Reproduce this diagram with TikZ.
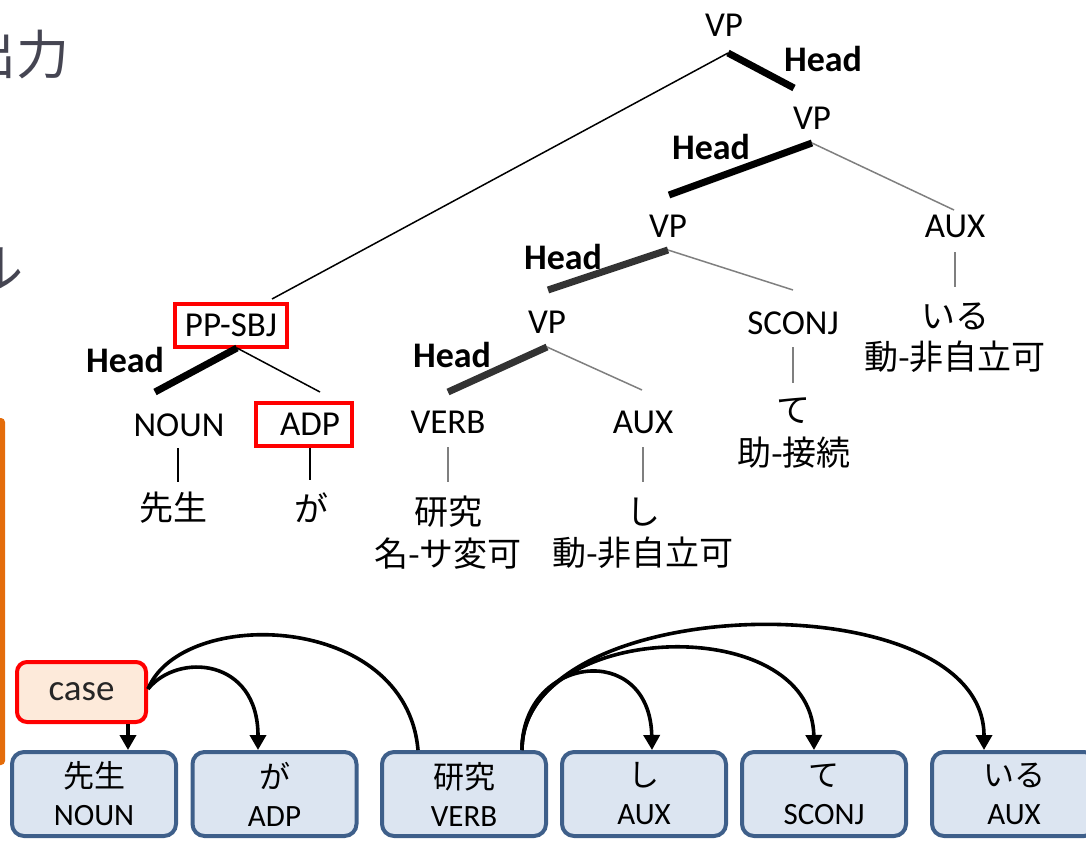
\documentclass[tikz,border=0pt]{standalone}
\usepackage{fontspec}
\setmainfont{Carlito}
\newfontfamily\jp{Noto Sans CJK JP}
\usetikzlibrary{arrows.meta,calc}

\definecolor{boxblue}{HTML}{3E5F8A}
\definecolor{boxfill}{HTML}{DCE5F1}
\definecolor{casefill}{HTML}{FDEADA}
\definecolor{barorange}{HTML}{E46C0A}
\definecolor{headgray}{HTML}{333333}
\definecolor{thingray}{HTML}{7F7F7F}
\definecolor{titlegray}{HTML}{454552}

\tikzset{
  lbl/.style={font=\fontsize{17.5}{20}\selectfont, inner sep=0pt},
  jlbl/.style={font=\jp\fontsize{17}{20}\selectfont, inner sep=0pt},
  headlbl/.style={font=\bfseries\fontsize{18}{20}\selectfont, inner sep=0pt},
  redbox/.style={draw=red, line width=2pt, minimum height=21.5pt, inner sep=0pt},
  headline/.style={line width=3.5pt},
  blackline/.style={line width=0.75pt, draw=black},
  greyline/.style={line width=0.75pt, draw=thingray},
  word/.style={draw=boxblue, fill=boxfill, line width=2pt, rounded corners=6pt,
    minimum width=82pt, minimum height=42pt, align=center, inner sep=0pt,
    font=\fontsize{15.5}{19}\selectfont},
  arc/.style={line width=1.8pt},
  dep/.style={line width=1.8pt, -{Triangle[length=7.5pt,width=8pt]}},
  title/.style={font=\jp\fontsize{26.5}{30}\selectfont, text=titlegray, inner sep=0pt},
}

\begin{document}
\begin{tikzpicture}[x=0.5pt,y=-0.5pt]
\useasboundingbox (0,0) rectangle (1086,840);
\clip (0,0) rectangle (1086,840);

% side bar and cut-off headings
\fill[barorange, rounded corners=2pt] (-6,418) rectangle (5,765);
\node[title] (ttl1) at (17,55) {出力};
\node[title] (ttl2) at (-3,268) {ル};

% ---------- constituency tree ----------
\node[lbl] (vpA) at (724,25) {VP};
\node[headlbl] (hA) at (823,59) {Head};
\node[lbl] (vpB) at (812,118) {VP};
\node[headlbl] (hB) at (711,147) {Head};
\node[lbl] (auxR) at (955,226) {AUX};
\node[jlbl] (iru) at (955,316) {いる};
\node[jlbl] (iruP) at (955,357) {動-非自立可};
\node[lbl] (vpC) at (668,226) {VP};
\node[headlbl] (hC) at (563,257) {Head};
\node[lbl] (sconj) at (793,323) {SCONJ};
\node[jlbl] (te) at (793,411) {て};
\node[jlbl] (teP) at (794,453) {助-接続};
\node[lbl] (vpD) at (547,322) {VP};
\node[headlbl] (hD) at (452,355) {Head};
\node[lbl] (verb) at (448,422) {VERB};
\node[jlbl] (ken) at (448,512) {研究};
\node[jlbl] (kenP) at (448,554) {名-サ変可};
\node[lbl] (auxM) at (643,422) {AUX};
\node[jlbl] (shi) at (643,512) {し};
\node[jlbl] (shiP) at (643,553) {動-非自立可};
\node[lbl, redbox, minimum width=56pt] (pp) at (231,325.5) {PP-SBJ};
\node[headlbl] (hE) at (125,360) {Head};
\node[lbl] (noun) at (179,425) {NOUN};
\node[jlbl] (sen) at (173,508) {先生};
\node[lbl, redbox, minimum width=48pt] (adp) at (304,424.5) {\hspace{6pt}ADP};
\node[jlbl] (ga) at (311,508) {が};

% branch points and branch ends
\coordinate (bA) at (728,53);
\coordinate (bB) at (812,143);
\coordinate (bC) at (668,250);
\coordinate (bD) at (547,347);
\coordinate (bE) at (237,348);
\coordinate (eA1) at (794,88);
\coordinate (eA2) at (272,299);
\coordinate (eB1) at (669,195);
\coordinate (eB2) at (954,210);
\coordinate (eC1) at (548,290);
\coordinate (eC2) at (793,290);
\coordinate (eD1) at (448,392);
\coordinate (eD2) at (642,390);
\coordinate (eE1) at (155,392);
\coordinate (eE2) at (320,392);

\draw[headline, black] (bA) -- (eA1);
\draw[blackline] (bA) -- (eA2);
\draw[headline, black] (bB) -- (eB1);
\draw[greyline] (bB) -- (eB2);
\draw[headline, headgray] (bC) -- (eC1);
\draw[greyline] (bC) -- (eC2);
\draw[headline, headgray] (bD) -- (eD1);
\draw[greyline] (bD) -- (eD2);
\draw[headline, black] (bE) -- (eE1);
\draw[blackline] (bE) -- (eE2);

% pre-terminal to word links
\draw[greyline] ($(auxR)+(0,26)$) -- ($(iru)+(0,-29)$);
\draw[greyline] ($(sconj)+(0,24)$) -- ($(te)+(0,-28)$);
\draw[greyline] ($(verb)+(0,25)$) -- ($(ken)+(0,-30)$);
\draw[greyline] ($(auxM)+(0,25)$) -- ($(shi)+(0,-30)$);
\draw[line width=0.75pt] ($(noun)+(-1,23)$) -- ($(sen)+(5,-26)$);
\draw[line width=0.75pt] ($(adp)+(6,23)$) -- ($(ga)+(-1,-28)$);

% ---------- dependency view ----------
\node[word] (b1) at (94,794) {{\jp 先生}\\NOUN};
\node[word] (b2) at (274.5,794) {{\jp が}\\ADP};
\node[word] (b3) at (464,794) {{\jp 研究}\\VERB};
\node[word] (b4) at (644,794) {{\jp し}\\AUX};
\node[word] (b5) at (824,794) {{\jp て}\\SCONJ};
\node[word] (b6) at (1014,794) {{\jp いる}\\AUX};

\node[draw=red, fill=casefill, line width=2pt, rounded corners=5pt,
  minimum width=64.5pt, minimum height=30pt, inner sep=0pt,
  font=\fontsize{18.5}{20}\selectfont, text=black!85] (case) at (81.5,692) {case};

\coordinate (kstart) at ($(b3.north)+(58,0)$);

\draw[arc] ($(b3.north)+(-46,0)$) .. controls (406,612) and (182,606) .. ($(case.east)+(0,-3)$);
\draw[dep] ($(case.east)+(0,-3)$) .. controls (178,652) and (258,658) .. ($(b2.north)+(-16.5,0)$);
\draw[dep] ($(case.south)+(46.5,0)$) -- ($(b1.north)+(34,0)$);

\draw[dep] (kstart) .. controls (522,655) and (650,640) .. ($(b4.north)+(8,0)$);
\draw[dep] (kstart) .. controls (522,620) and (812,610) .. ($(b5.north)+(-10,0)$);
\draw[dep] (kstart) .. controls (522,590) and (984,580) .. ($(b6.north)+(-30,0)$);
\end{tikzpicture}
\end{document}
